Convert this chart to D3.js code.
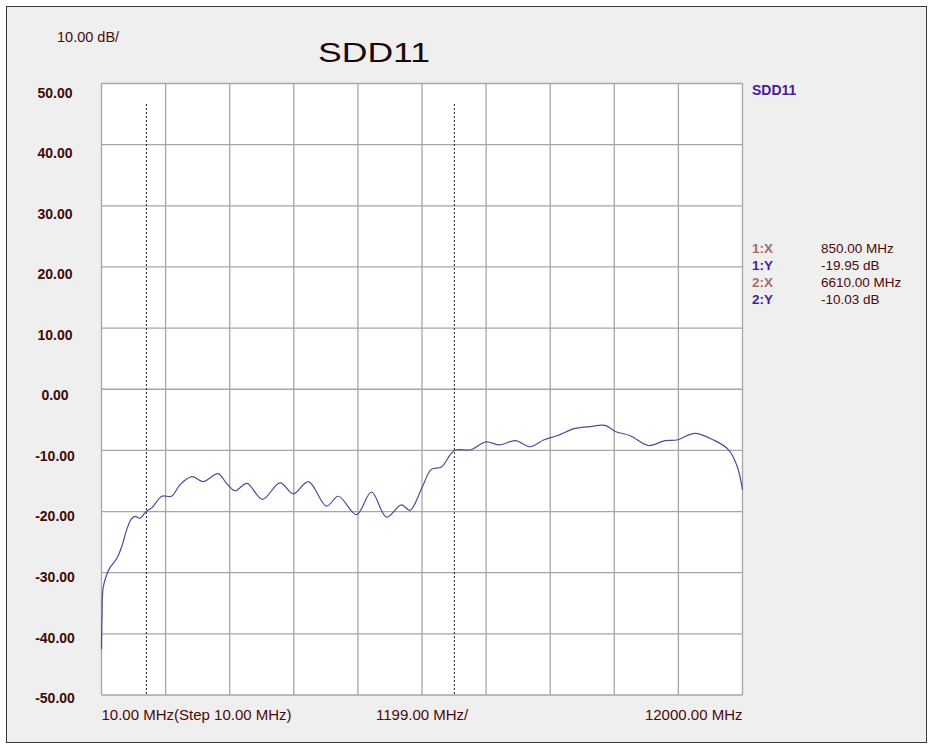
<!DOCTYPE html>
<html>
<head>
<meta charset="utf-8">
<script src="https://cdn.jsdelivr.net/npm/d3@7/dist/d3.min.js"></script>
<style>
  body { margin: 0; background: #fff; }
  svg { display: block; font-family: 'Liberation Sans', Arial, sans-serif; }
</style>
</head>
<body>
<svg id="chart" width="931" height="745"></svg>
<script>
// 频率 (MHz) 与 SDD11 (dB)
const freqMHz = [10, 20, 40, 100, 160, 300, 390, 480, 570, 640, 730, 850, 950, 1140, 1320, 1480,
  1700, 1910, 2190, 2350, 2510, 2730, 3020, 3350, 3600, 3880, 4220, 4440, 4780, 5060, 5340, 5620,
  5780, 6000, 6180, 6370, 6610, 6920, 7200, 7460, 7750, 8030, 8280, 8530, 8870, 9150, 9430, 9620,
  9900, 10240, 10550, 10770, 11110, 11460, 11740, 11900, 12000]
const sdd11dB = [-42.5, -37, -32.5, -30.5, -29.3, -27.6, -25.7, -23, -21.2, -20.8, -21.1, -19.95, -19.4,
  -17.5, -17.5, -15.6, -14.3, -15.1, -13.8, -15.4, -16.6, -15.4, -18, -15.3, -17.1, -15.1, -19.1,
  -17.5, -20.5, -16.8, -20.9, -18.9, -19.8, -16.2, -13.1, -12.7, -10.03, -9.9, -8.6, -9.1, -8.4,
  -9.4, -8.3, -7.6, -6.4, -6.1, -5.9, -6.9, -7.6, -9.2, -8.4, -8.3, -7.2, -8.3, -9.9, -12.6, -16.4]

const yTicks = [50, 40, 30, 20, 10, 0, -10, -20, -30, -40, -50]
const xStart = 10
const xStop = 12000
const xStep = 1199
const xLabels = ['10.00 MHz(Step 10.00 MHz)', '1199.00 MHz/', '12000.00 MHz']

const markerNames = ['1', '2']
const markerFreq = [850, 6610]
const markerDb = [-19.95, -10.03]

const svg = d3.select('#chart')
const plotLeft = 101.5
const plotRight = 742.5
const plotTop = 83.5
const plotBottom = 695

const x = d3.scaleLinear().domain([xStart, xStop]).range([plotLeft, plotRight])
const y = d3.scaleLinear().domain([-50, 50]).range([plotBottom, plotTop])
// 刻度文字的位置与网格稍有偏移
const yLabel = d3.scaleLinear().domain([-50, 50]).range([698, 92.7])

// 外框和背景
svg.append('rect')
  .attr('x', 6.5).attr('y', 6.5)
  .attr('width', 920).attr('height', 736)
  .attr('fill', '#efefef')
  .attr('stroke', '#3a3a3a')
  .attr('stroke-width', 1)

svg.append('rect')
  .attr('x', plotLeft).attr('y', plotTop)
  .attr('width', plotRight - plotLeft).attr('height', plotBottom - plotTop)
  .attr('fill', '#ffffff')

// 网格
const xGrid = d3.range(0, 11).map(i => xStart + i * xStep)
svg.append('g')
  .selectAll('line')
  .data(xGrid)
  .enter()
  .append('line')
  .attr('x1', d => x(d)).attr('x2', d => x(d))
  .attr('y1', plotTop).attr('y2', plotBottom)
  .attr('stroke', '#a6a6a6')
  .attr('stroke-width', 1.3)

svg.append('g')
  .selectAll('line')
  .data(yTicks)
  .enter()
  .append('line')
  .attr('x1', plotLeft).attr('x2', plotRight)
  .attr('y1', d => y(d)).attr('y2', d => y(d))
  .attr('stroke', '#a6a6a6')
  .attr('stroke-width', 1.3)

// 标记线
svg.append('g')
  .selectAll('line')
  .data(markerFreq)
  .enter()
  .append('line')
  .attr('x1', d => x(d)).attr('x2', d => x(d))
  .attr('y1', 104).attr('y2', plotBottom)
  .attr('stroke', '#222')
  .attr('stroke-width', 1)
  .attr('stroke-dasharray', '2,2')

// 曲线
const line = d3.line()
  .x((d, i) => x(freqMHz[i]))
  .y(d => y(d))
  .curve(d3.curveCatmullRom.alpha(0.5))

svg.append('path')
  .datum(sdd11dB)
  .attr('d', line)
  .attr('fill', 'none')
  .attr('stroke', '#4a4a9e')
  .attr('stroke-width', 1.2)

// Y 轴文字
svg.append('g')
  .selectAll('text')
  .data(yTicks)
  .enter()
  .append('text')
  .attr('x', 55)
  .attr('y', d => yLabel(d))
  .attr('dy', '0.36em')
  .attr('text-anchor', 'middle')
  .attr('font-size', 14)
  .attr('font-weight', 'bold')
  .attr('fill', '#3c0a0a')
  .text(d => d.toFixed(2))

// X 轴文字
svg.append('text')
  .attr('x', plotLeft).attr('y', 720)
  .attr('font-size', 15)
  .attr('fill', '#4a0a0a')
  .text(xLabels[0])
svg.append('text')
  .attr('x', 376).attr('y', 720)
  .attr('font-size', 15)
  .attr('fill', '#4a0a0a')
  .text(xLabels[1])
svg.append('text')
  .attr('x', plotRight).attr('y', 720)
  .attr('text-anchor', 'end')
  .attr('font-size', 15)
  .attr('fill', '#4a0a0a')
  .text(xLabels[2])

// 标题
svg.append('text')
  .attr('x', 57).attr('y', 42)
  .attr('font-size', 14.5)
  .attr('fill', '#4a0a0a')
  .text('10.00 dB/')

svg.append('text')
  .attr('x', 318).attr('y', 62)
  .attr('font-size', 28)
  .attr('textLength', 112)
  .attr('lengthAdjust', 'spacingAndGlyphs')
  .attr('fill', '#1a0808')
  .text('SDD11')

// 图例和标记数值
svg.append('text')
  .attr('x', 752).attr('y', 95)
  .attr('font-size', 14)
  .attr('font-weight', 'bold')
  .attr('fill', '#4a1c9c')
  .text('SDD11')

const rows = []
markerNames.forEach((m, i) => {
  rows.push({ k: `${m}:X`, v: `${markerFreq[i].toFixed(2)} MHz`, c: '#a86a6a' })
  rows.push({ k: `${m}:Y`, v: `${markerDb[i].toFixed(2)} dB`, c: '#4a1c9c' })
})

const legend = svg.append('g')
legend.selectAll('.key')
  .data(rows)
  .enter()
  .append('text')
  .attr('class', 'key')
  .attr('x', 752)
  .attr('y', (d, i) => 248.5 + i * 17)
  .attr('dy', '0.36em')
  .attr('font-size', 13.5)
  .attr('font-weight', 'bold')
  .attr('fill', d => d.c)
  .text(d => d.k)
legend.selectAll('.val')
  .data(rows)
  .enter()
  .append('text')
  .attr('class', 'val')
  .attr('x', 821)
  .attr('y', (d, i) => 248.5 + i * 17)
  .attr('dy', '0.36em')
  .attr('font-size', 13.5)
  .attr('fill', '#4a0a0a')
  .text(d => d.v)
</script>
</body>
</html>
